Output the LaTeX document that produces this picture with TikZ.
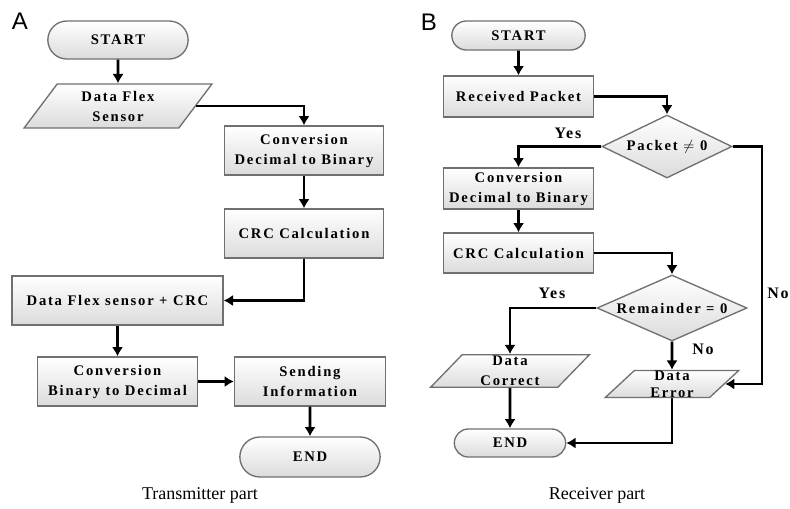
\documentclass[tikz,border=0pt]{standalone}
\usepackage{fontspec}
\setmainfont{Liberation Serif}
\newfontfamily\boxfont[LetterSpace=12]{Liberation Serif}
\newfontfamily\panelfont{Liberation Sans}
\usetikzlibrary{arrows.meta, positioning, shapes.misc, shapes.geometric}
\definecolor{edge_gray}{RGB}{112,112,112}
\tikzset{
	shape_base/.style={draw=edge_gray, line width=1pt, top color=white, bottom color=black!14,
		align=center, font=\boxfont\bfseries\fontsize{11}{15}\selectfont, inner sep=1pt},
	term/.style={shape_base, rounded rectangle, minimum width=#1*0.75pt},
	proc/.style={shape_base, rectangle, minimum width=#1*0.75pt},
	io/.style={shape_base, trapezium, trapezium left angle=58, trapezium right angle=122,
		trapezium stretches=true, minimum width=#1*0.75pt},
	decision/.style={shape_base, diamond, inner sep=0pt, minimum width=#1*0.75pt},
	flow/.style={-{Latex[length=7pt,width=8.5pt]}, line width=2pt, line join=miter},
	answer/.style={font=\boxfont\bfseries\fontsize{12}{13}\selectfont},
	caption/.style={font=\fontsize{13.5}{15}\selectfont}
}

\begin{document}
\begin{tikzpicture}[x=0.75pt,y=-0.75pt]
	\useasboundingbox (0,0) rectangle (790,508);
	% A: transmitter
	\node[font=\panelfont\fontsize{18}{18}\selectfont] (labA) at (20,21) {A};
	\node[term=143, minimum height=38*0.75pt] (startA) at (118,40) {START};
	\node[io=188, minimum height=44*0.75pt]   (flexA)  at (118,106) {Data Flex\\Sensor};
	\node[proc=159, minimum height=49*0.75pt] (convA)  at (304,150.5) {Conversion\\Decimal to Binary};
	\node[proc=159, minimum height=49*0.75pt] (crcA)   at (304,233.5) {CRC Calculation};
	\node[proc=211, minimum height=49*0.75pt] (sumA)   at (117.5,300.5) {Data Flex sensor + CRC};
	\node[proc=160, minimum height=49*0.75pt] (binA)   at (117.5,381.5) {Conversion\\Binary to Decimal};
	\node[proc=151, minimum height=49*0.75pt] (sendA)  at (310,381.5) {Sending\\Information};
	\node[term=143, minimum height=40*0.75pt] (endA)   at (310,457) {END};
	\node[caption] (capA) at (200,495) {Transmitter part};

	\draw[flow] (startA) -- (flexA);
	\draw[flow] (flexA.east) -| (convA.north);
	\draw[flow] (convA) -- (crcA);
	\draw[flow] (crcA.south) |- (sumA.east);
	\draw[flow] (sumA) -- (binA);
	\draw[flow] (binA) -- (sendA);
	\draw[flow] (sendA) -- (endA);

	% B: receiver
	\node[font=\panelfont\fontsize{18}{18}\selectfont] (labB) at (429,22) {B};
	\node[term=136, minimum height=29*0.75pt] (startB) at (518.5,35.5) {START};
	\node[proc=150, minimum height=41*0.75pt] (recvB)  at (518.5,96.5) {Received Packet};
	\node[decision=130, aspect=2.06, minimum height=63*0.75pt] (pktB) at (667,146.5) {Packet $\neq$ 0};
	\node[proc=150, minimum height=41*0.75pt] (convB)  at (518.5,188.5) {Conversion\\Decimal to Binary};
	\node[proc=150, minimum height=40*0.75pt] (crcB)   at (518.5,253) {CRC Calculation};
	\node[decision=150, aspect=2.27, minimum height=66*0.75pt] (remB) at (672,308) {Remainder = 0};
	\node[io=159, minimum height=32*0.75pt]   (okB)    at (510,371) {Data\\Correct};
	\node[io=134, minimum height=26*0.75pt, inner sep=0pt, font=\boxfont\bfseries\fontsize{11}{13}\selectfont]
		(errB) at (672,384) {Data\\Error};
	\node[term=114, minimum height=28*0.75pt] (endB)   at (510,443) {END};
	\coordinate (pktTurn) at (762,146.5);
	\node[caption] (capB) at (597,495) {Receiver part};

	\draw[flow] (startB) -- (recvB);
	\draw[flow] (recvB.east) -| (pktB.north);
	\draw[flow] (pktB.west) -| (convB.north);
	\draw[flow] (convB) -- (crcB);
	\draw[flow] (crcB.east) -| (remB.north);
	\draw[flow] (remB.west) -| (okB.north);
	\draw[flow] (remB.south) -- (errB.north);
	\draw[flow] (okB) -- (endB);
	\draw[flow] (errB.south) |- (endB.east);
	\draw[flow] (pktB.east) -- (pktTurn) |- (errB.east);
	\node[answer] (yesPkt) at (568,133) {Yes};
	\node[answer] (yesRem) at (552,293) {Yes};
	\node[answer] (noRem)  at (703,349) {No};
	\node[answer] (noPkt)  at (778,293) {No};
\end{tikzpicture}
\end{document}
